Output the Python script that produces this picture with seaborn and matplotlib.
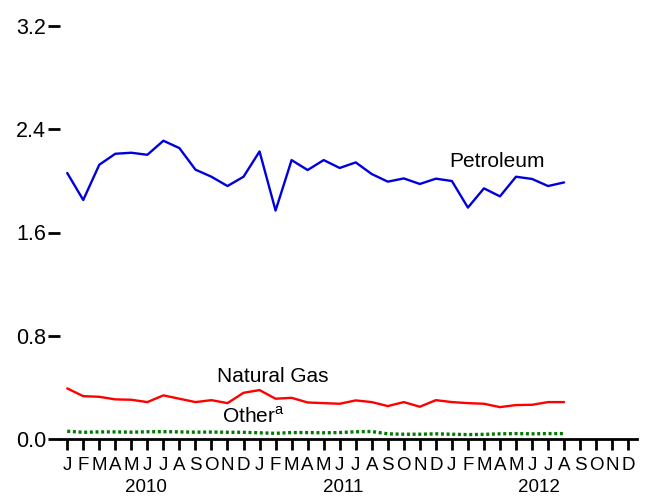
import numpy as np
import pandas as pd
import matplotlib
matplotlib.use("Agg")
import matplotlib.pyplot as plt
import matplotlib.transforms as mtransforms
import seaborn as sns

month_letters = ["J", "F", "M", "A", "M", "J", "J", "A", "S", "O", "N", "D"]
years = ["2010", "2011", "2012"]

petroleum = [2.061, 1.852, 2.125, 2.210, 2.218, 2.202, 2.311, 2.254, 2.087, 2.032, 1.960, 2.032,
             2.228, 1.770, 2.161, 2.084, 2.161, 2.100, 2.143, 2.053, 1.994, 2.019, 1.976, 2.017,
             1.999, 1.793, 1.942, 1.880, 2.032, 2.015, 1.960, 1.988]
natural_gas = [0.392, 0.332, 0.327, 0.307, 0.304, 0.286, 0.338, 0.312, 0.286, 0.301, 0.278, 0.358,
               0.379, 0.312, 0.319, 0.283, 0.278, 0.273, 0.299, 0.286, 0.255, 0.286, 0.250, 0.301,
               0.286, 0.278, 0.273, 0.247, 0.263, 0.265, 0.286, 0.286]
other = [0.060, 0.052, 0.055, 0.055, 0.053, 0.056, 0.057, 0.055, 0.053, 0.054, 0.052, 0.052,
         0.048, 0.044, 0.050, 0.050, 0.048, 0.050, 0.056, 0.058, 0.040, 0.037, 0.037, 0.040,
         0.037, 0.034, 0.036, 0.040, 0.042, 0.040, 0.042, 0.042]

sns.set_theme(style="white")
plt.rcParams["font.family"] = ["Liberation Sans", "DejaVu Sans"]
plt.rcParams["text.color"] = "black"
plt.rcParams["xtick.color"] = "black"
plt.rcParams["ytick.color"] = "black"

n = len(petroleum)
df = pd.DataFrame({
    "idx": list(range(n)) * 3,
    "value": petroleum + natural_gas + other,
    "series": ["Petroleum"] * n + ["Natural Gas"] * n + ["Other"] * n,
})

fig = plt.figure(figsize=(6.45, 4.97), dpi=100)
ax = fig.add_axes([60 / 645, 1 - 439 / 497, (637 - 60) / 645, (439 - 26) / 497])

palette = {"Petroleum": "#0000dd", "Natural Gas": "#ff0000", "Other": "#007a00"}
sns.lineplot(data=df[df.series == "Petroleum"], x="idx", y="value", color=palette["Petroleum"],
             lw=1.7, ax=ax, legend=False)
sns.lineplot(data=df[df.series == "Natural Gas"], x="idx", y="value", color=palette["Natural Gas"],
             lw=1.7, ax=ax, legend=False)
sns.lineplot(data=df[df.series == "Other"], x="idx", y="value", color=palette["Other"],
             lw=2.4, ax=ax, legend=False, linestyle=(0, (0.9, 0.8)))

ax.set_xlim(-0.45, 35.55)
ax.set_ylim(0, 3.2)
ax.set_xlabel("")
ax.set_ylabel("")

ax.set_yticks([0.0, 0.8, 1.6, 2.4, 3.2])
ax.set_yticklabels(["0.0", "0.8", "1.6", "2.4", "3.2"], fontsize=15.5)
ax.set_xticks(range(36))
ax.set_xticklabels(month_letters * 3, fontsize=13.5)

for s in ["top", "right", "left"]:
    ax.spines[s].set_visible(False)
ax.spines["bottom"].set_color("black")
ax.spines["bottom"].set_linewidth(2)
ax.tick_params(axis="y", direction="out", length=9, width=2, colors="black", pad=1, left=True)
ax.tick_params(axis="x", direction="out", length=8, width=2, colors="black", pad=5, bottom=True)

trans = mtransforms.blended_transform_factory(ax.transData, fig.transFigure)
for yr, pos in zip(years, [4.9, 17.2, 29.45]):
    ax.text(pos, 1 - 487 / 497, yr, transform=trans, ha="center", va="center",
            fontsize=13.5, color="black")

ax.text(26.8, 2.148, "Petroleum", fontsize=15, ha="center", va="center", color="black")
ax.text(12.8, 0.487, "Natural Gas", fontsize=15, ha="center", va="center", color="black")
ax.text(11.6, 0.175, "Other$^{\\mathregular{a}}$", fontsize=15, ha="center", va="center", color="black")

fig.savefig("out.png", dpi=100)
